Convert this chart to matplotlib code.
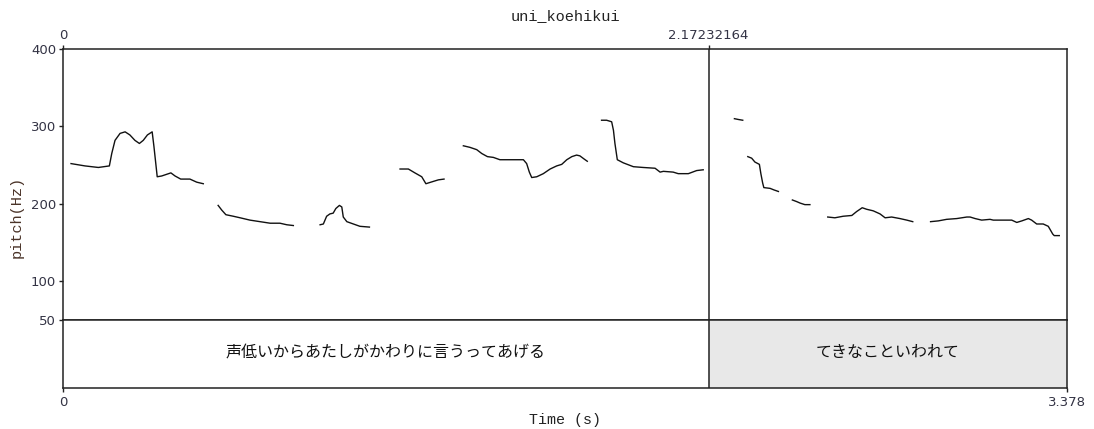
import matplotlib
matplotlib.use('Agg')
import matplotlib.pyplot as plt
import numpy as np

plt.rcParams['font.family'] = ['DejaVu Sans', 'Noto Sans CJK JP']
plt.rcParams['axes.unicode_minus'] = False

# ===================== データ =====================
title = "uni_koehikui"
total_dur = 3.378
boundary = 2.17232164
tier_labels = ["声低いからあたしがかわりに言うってあげる", "てきなこといわれて"]
tier_starts = [0.0, boundary]
tier_ends = [boundary, total_dur]

# ピッチ曲線（有声区間ごと）: 時間(s), 周波数(Hz)
seg1_t = [0.027, 0.074, 0.119, 0.156, 0.164, 0.175, 0.192, 0.209, 0.225, 0.242, 0.257, 0.270,
          0.284, 0.300, 0.306, 0.317, 0.332, 0.363, 0.377, 0.396, 0.427, 0.450, 0.472]
seg1_f = [252, 249, 247, 249, 265, 282, 291, 293, 289, 282, 278, 282,
          289, 293, 274, 235, 236, 240, 236, 232, 232, 228, 226]
seg2_t = [0.522, 0.534, 0.548, 0.573, 0.596, 0.629, 0.663, 0.697, 0.730, 0.753, 0.775]
seg2_f = [198, 192, 186, 184, 182, 179, 177, 175, 175, 173, 172]
seg3_t = [0.865, 0.876, 0.887, 0.898, 0.909, 0.918, 0.930, 0.938, 0.943, 0.955, 0.977, 0.999, 1.031]
seg3_f = [173, 174, 184, 187, 188, 194, 198, 196, 183, 177, 174, 171, 170]
seg4_t = [1.134, 1.162, 1.184, 1.207, 1.221, 1.246, 1.263, 1.282]
seg4_f = [245, 245, 240, 235, 226, 229, 231, 232]
seg5_t = [1.347, 1.369, 1.392, 1.409, 1.428, 1.448, 1.470, 1.493, 1.527, 1.549, 1.560, 1.569,
          1.577, 1.594, 1.616, 1.639, 1.661, 1.678, 1.695, 1.712, 1.728, 1.739, 1.753, 1.764]
seg5_f = [275, 273, 270, 265, 261, 260, 257, 257, 257, 257, 252, 241,
          234, 235, 239, 245, 249, 251, 257, 261, 263, 262, 258, 255]
seg6_t = [1.812, 1.829, 1.846, 1.852, 1.857, 1.865, 1.885, 1.919, 1.952, 1.992, 2.009,
          2.020, 2.053, 2.070, 2.104, 2.132, 2.154]
seg6_f = [308, 308, 306, 295, 278, 257, 253, 248, 247, 246, 241, 242, 241, 239, 239, 243, 244]
seg7_t = [2.259, 2.272, 2.287]
seg7_f = [310, 309, 308]
seg8_t = [2.304, 2.317, 2.328, 2.343, 2.348, 2.354, 2.358, 2.379, 2.392, 2.407]
seg8_f = [261, 259, 254, 251, 239, 227, 221, 220, 218, 216]
seg9_t = [2.454, 2.468, 2.480, 2.496, 2.513]
seg9_f = [205, 203, 201, 199, 199]
seg10_t = [2.573, 2.597, 2.625, 2.654, 2.670, 2.689, 2.704, 2.726, 2.749, 2.766, 2.788,
           2.816, 2.839, 2.859]
seg10_f = [183, 182, 184, 185, 190, 195, 193, 191, 187, 182, 183, 181, 179, 177]
seg11_t = [2.919, 2.945, 2.973, 3.007, 3.041, 3.052, 3.069, 3.091, 3.119, 3.130, 3.164,
           3.192, 3.209, 3.226, 3.248, 3.259, 3.276, 3.298, 3.315, 3.330, 3.335, 3.352]
seg11_f = [177, 178, 180, 181, 183, 183, 181, 179, 180, 179, 179,
           179, 176, 178, 181, 179, 174, 174, 171, 161, 159, 159]

segments_t = [seg1_t, seg2_t, seg3_t, seg4_t, seg5_t, seg6_t, seg7_t, seg8_t, seg9_t, seg10_t, seg11_t]
segments_f = [seg1_f, seg2_f, seg3_f, seg4_f, seg5_f, seg6_f, seg7_f, seg8_f, seg9_f, seg10_f, seg11_f]

y_ticks = [50, 100, 200, 300, 400]

# ===================== 描画 =====================
W, H = 1094, 429
fig = plt.figure(figsize=(W / 100, H / 100), dpi=100)
left, right = 63 / W, 1067 / W
ax = fig.add_axes([left, 1 - 320 / H, right - left, (320 - 49) / H])
ax_t = fig.add_axes([left, 1 - 388 / H, right - left, (388 - 320) / H])

edge = '#222222'
lab_col = '#333344'
mono = 'Liberation Mono'

for t, f in zip(segments_t, segments_f):
    ax.plot(t, f, color='#111111', linewidth=1.0, solid_joinstyle='round')

ax.set_xlim(0, total_dur)
ax.set_ylim(50, 400)
ax.set_yticks(y_ticks)
ax.set_yticklabels([str(v) for v in y_ticks], fontsize=9.5, color=lab_col)
ax.tick_params(axis='y', direction='out', length=3, width=1, color=edge, pad=2)
ax.xaxis.tick_top()
ax.set_xticks([0, boundary])
ax.set_xticklabels(['0', '2.17232164'], fontsize=9.5, color=lab_col)
ax.tick_params(axis='x', direction='out', length=3, width=1, color=edge, pad=2)
ax.axvline(boundary, color=edge, linewidth=1.1)
for s in ax.spines.values():
    s.set_color(edge)
    s.set_linewidth(1.1)

# 縦軸ラベル・タイトル
fig.text(17 / W, 1 - 217 / H, 'pitch(Hz)', rotation=90, ha='center', va='center',
         fontsize=11, family=mono, color='#4a3328')
fig.text(565 / W, 1 - 16 / H, title, ha='center', va='center',
         fontsize=11, family=mono, color='#222222')

# テキスト層
ax_t.set_xlim(0, total_dur)
ax_t.set_ylim(0, 1)
ax_t.axvspan(tier_starts[1], tier_ends[1], color='#e8e8e8', zorder=0)
ax_t.axvline(boundary, color=edge, linewidth=1.1)
for s0, s1, lab in zip(tier_starts, tier_ends, tier_labels):
    ax_t.text((s0 + s1) / 2, 0.52, lab, ha='center', va='center', fontsize=11.5,
              family=['Noto Sans CJK JP', 'DejaVu Sans'], color='#111111')
ax_t.set_yticks([])
ax_t.set_xticks([0, total_dur])
ax_t.set_xticklabels(['0', '3.378'], fontsize=9.5, color=lab_col)
ax_t.tick_params(axis='x', direction='out', length=3, width=1, color=edge, pad=3)
for s in ax_t.spines.values():
    s.set_color(edge)
    s.set_linewidth(1.1)

fig.text(565 / W, 1 - 420 / H, 'Time (s)', ha='center', va='center',
         fontsize=10.8, family=mono, color='#222222')

fig.savefig('out.png', dpi=100)
